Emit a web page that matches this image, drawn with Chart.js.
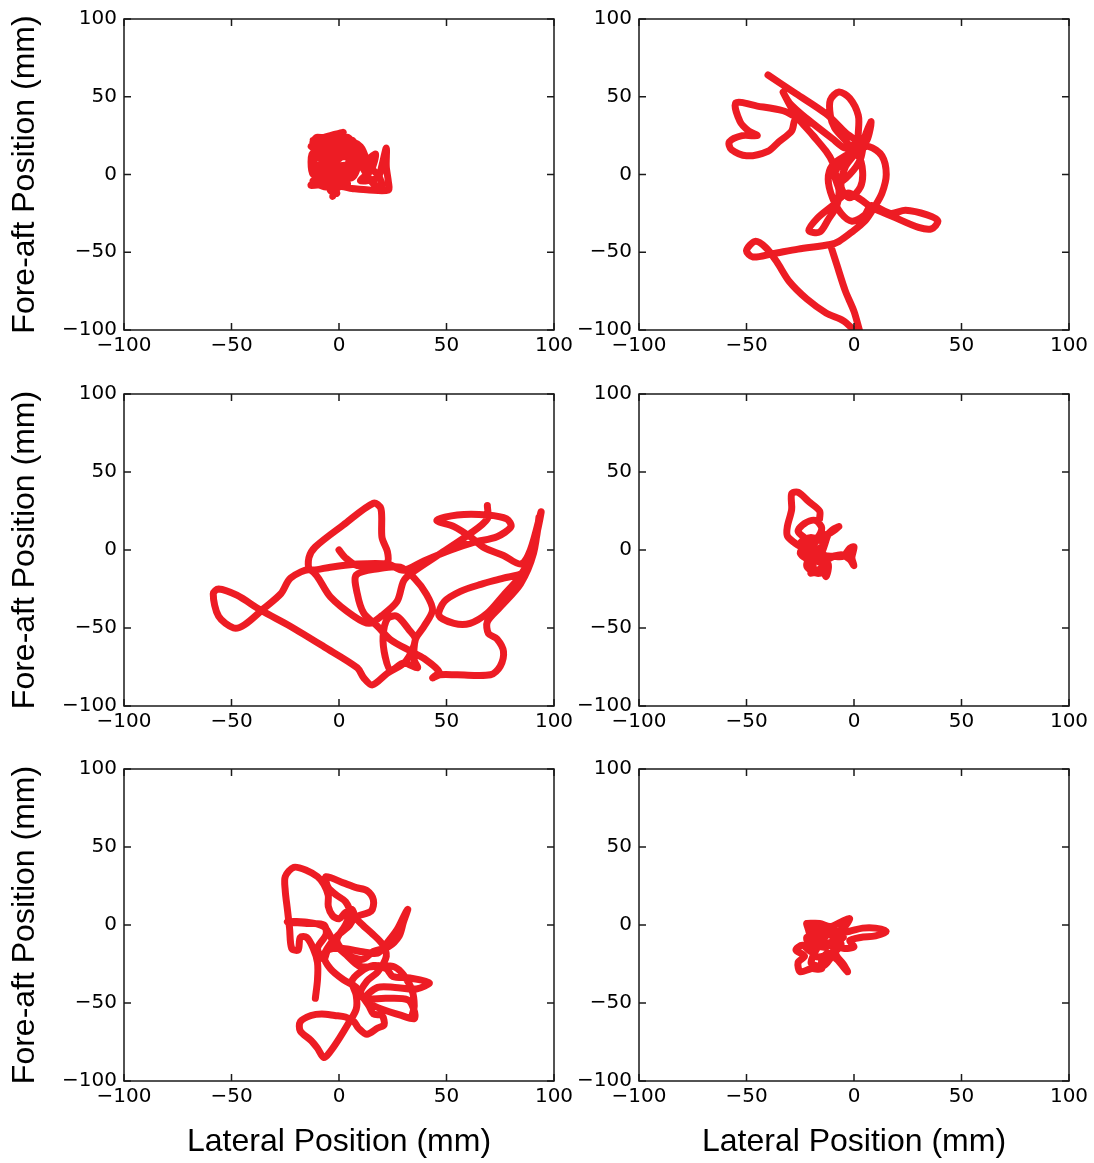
<!DOCTYPE html>
<html>
<head>
<meta charset="utf-8">
<script src="https://cdn.jsdelivr.net/npm/chart.js@4.4.1/dist/chart.umd.min.js"></script>
<style>
  html, body { margin: 0; padding: 0; background: #fff; overflow: hidden; }
  #wrap { position: relative; width: 1094px; height: 1163px; }
  canvas { position: absolute; }
</style>
</head>
<body>
<div id="wrap">
  <canvas id="c1"></canvas>
  <canvas id="c2"></canvas>
  <canvas id="c3"></canvas>
  <canvas id="c4"></canvas>
  <canvas id="c5"></canvas>
  <canvas id="c6"></canvas>
</div>
<script>
// tick labels shared by every panel (mm)
var axisTicks = [-100, -50, 0, 50, 100];

// panel 1 (top left)
var p1Lateral = [-12,-4,2,-6,-13,-2,6,8,-10,-12,0,5,3,-11,-9,4,9,12,14,17,15,10,18,20,22,22,23,23,14,6,0,-3,-1,-13,-8,2,7,-2,-8,-3,4,7,10,6,-1,-7,-12,-13,-12,-5,3,8,12,16,20,18,11,4,-10,-12,6,4,-12,-12,8,6,-12,-6,4,-4,-1,-9,2,10,14];
var p1ForeAft = [22,25,27,20,18,15,22,14,12,6,10,18,4,2,-4,0,8,5,10,13,3,-4,-2,6,17,5,-5,-10,-10,-9,-8,-14,-6,-7,-4,-3,2,6,9,18,24,19,14,6,1,-1,0,8,14,10,13,10,2,-6,-8,0,8,20,24,20,18,12,10,4,6,-2,-4,-8,-6,-10,-12,16,22,18,4];

// panel 2 (top right), null = pen lifted
var p2Lateral = [0,-5,-13,-22,-30,-36,-41,-46,-50,-47,-38,-26,-11,-7,-1,5,9,13,15,13,7,2,-4,-10,-12,-10,-6,-1,5,8,17,24,34,39,36,30,18,8,3,-3,-10,-17,-21,-16,-12,-8,-7,-9,-6,-2,2,4,3,-2,-6,-4,1,2,2,-2,-7,-11,-11,-9,-4,1,6,8,5,3,-2,-7,-10,-13,-19,-27,-33,-30,-22,-10,-4,1,-4,-13,-27,-40,
  null, 2.5,0,-4,-8,-11,
  null, -20,-27,-29,-35,-40,-50,-57,-58,-52,-45,-49,-53,-55,-45,-33,-27];
var p2ForeAft = [-100,-94,-89,-80,-69,-56,-47,-43,-49,-53,-51,-48,-45,-43,-37,-30,-22,-12,0,12,18,16,12,6,-3,-15,-25,-30,-26,-20,-25,-23,-26,-30,-35,-34,-27,-21,-16,-12,-20,-28,-36,-37,-29,-20,-10,0,8,14,12,2,-8,-15,-8,5,15,27,38,49,53,48,38,30,22,14,22,34,24,10,0,-5,8,15,25,38,53,46,36,23,17,21,27,39,52,64,
  null, -100,-88,-75,-58,-45,
  null, 33,36,28,21,15,12,16,21,25,25,28,34,46,44,41,37];

// panel 3 (middle left)
var p3Lateral = [0,3,8.5,18,22.5,22.5,20,19.5,16,2,-11,-14,-13.5,-4,8.5,22.5,30,39.5,52,63,73.5,80,78,69,55,45.5,53.5,61,67.5,76.5,84.5,89,94,92,88.5,83,76.5,69,61,53.5,46.5,49,56.5,66,76.5,86,91.5,93,90.5,84.5,75,69,69.5,73.5,76.5,75,70.5,55,47,43.5,46.5,39.5,33.5,24,18,11.5,8.5,8,18,28.5,35,40.5,43.5,39.5,35.5,35,36.5,30,24,21.5,20.5,22.5,27,32.5,35.5,31,22.5,15.5,11.5,8.5,-7,-22.5,-36.5,-47.5,-56,-58.5,-56,-49,-44,-35,-27,-22.5,-13,-4,7,14,20,27,30,33.5,47.5,61,69,69];
var p3ForeAft = [0,-5,-10,-10,-8,-1,8,26.5,30,16,2,-5,-12.5,-11,-9,-9,-13,-7,0,5,8.5,15,20,22.5,22.5,19,15,8.5,1.5,-3.5,-9,0,24.5,10.5,-6.5,-19,-29,-40.5,-47,-47,-42,-33,-26.5,-22,-18,-14,6,21,-2,-21.5,-36.5,-46,-53.5,-57,-65,-74.5,-80,-80,-80,-82,-78,-69.5,-65,-57.5,-49,-40.5,-28,-16,-12,-11,-18,-28,-38.5,-49,-57.5,-70.5,-75.5,-72.5,-77,-68.5,-55.5,-44,-42.5,-51,-57.5,-71.5,-79,-86.5,-82,-75.5,-62,-49,-38.5,-29,-25,-28,-42.5,-50,-48,-37.5,-28,-18,-13,-30,-42.5,-47,-42,-33,-20,-15,-2,10.5,20,28.5];

// panel 4 (middle right)
var p4Lateral = [-16,-16,-21,-26,-29,-29,-31,-31,-28,-24,-22,-26,-23,-18,-15,-17,-22,-25,-21,-16,-14,-12,-10,-7,-11,-16,-19,-23,-19,-20,-15,-13,-12,-16,-10,-5,-2,0,-1,0,-2,-6,-12,-14,-18,-20,-24,-20,-14,-20,-25,-18,-12,-17,-22,-18,-14];
var p4ForeAft = [20,25,31,37,36,26,15,9,5,2,6,12,17,19,14,8,4,-2,-6,-4,2,10,13,15,11,8,3,-4,-10,-15,-12,-17,-9,-4,-4,-4,1,2,-5,-10,-6,-3,-6,-12,-14,-8,-3,-2,4,8,4,-6,-12,-15,-10,0,-3];

// panel 5 (bottom left)
var p5Lateral = [-11,-10,-10,-12,-15,-18,-19,-22,-23,-24,-25,-25,-21,-15,-10,-7,-5,-5,-3,0,3,6,7,5,0,-4,-7,-4,2,8,11,14,16,20,21,18,13,9,7,3,-2,-8,-13,-18,-18,-13,-10,-7,-4,0,4,8,8,6,10,16,22,25,33,42,36,26,18,12,22,32,35,35,29,20,14,10,13,18,22,20,15,11,8,15,16,13,8,2,-6,-5,-1,3,5,3,-1,4,11,16,23,28,30,32,31,27,22,18,10,2,-5,-7,-10,-6,-7,-14,-24,-16,-7,-2,4,9,14,20,26,30,34,35,34];
var p5ForeAft = [-47,-35,-24,-15,-8,-8,-16,-15,-2,10,22,31,37,35,31,26,19,12,6,4,8,10,6,0,-6,-12,-20,-28,-35,-40,-46,-52,-57,-58,-64,-66,-70,-66,-62,-59,-58,-57,-58,-62,-68,-74,-79,-85,-81,-73,-64,-54,-45,-36,-30,-26,-28,-33,-34,-37,-41,-40,-40,-47,-47,-48,-55,-60,-58,-54,-50,-44,-36,-30,-20,-12,-5,0,5,9,16,22,24,27,31,24,19,15,8,0,-10,-19,-22,-17,-14,-7,2,10,8,-3,-12,-18,-17,-15,-16,-22,-15,-6,0,1,2,2,-1,-12,-20,-26,-27,-26,-27,-32,-42,-52,-58];

// panel 6 (bottom right)
var p6Lateral = [-22,-16,-11,-6,-2,-5,-10,-2,4,10,15,10,3,-2,0,-5,-10,-8,-5,-3,-8,-12,-15,-15,-20,-25,-26,-23,-27,-24,-20,-20,-21,-22,-19,-14,-17,-13,-9,-14,-18,-20,-10,-5,-15,-22,-18,-10,-6,-12,-20,-14,-8];
var p6ForeAft = [1,1,-1,2,4,-2,-6,-4,-2,-2,-4,-7,-8,-10,-14,-15,-12,-20,-25,-30,-22,-18,-22,-28,-28,-30,-24,-20,-16,-13,-17,-10,-4,1,-6,-8,-13,-14,-9,-4,-1,-5,-3,-8,-12,-8,-20,-18,-12,-6,-24,-26,-15];

var red = '#ED1C24';
var tickFont = { family: 'DejaVu Sans', size: 20 };
var titleFont = { family: 'Liberation Sans', size: 32 };

function minusSign(v) {
  return v < 0 ? '\u2212' + Math.abs(v) : String(v);
}

// box + inward ticks on all four sides, like the old matplotlib look
var frameTicks = {
  id: 'frameTicks',
  afterDraw: function(chart) {
    var ctx = chart.ctx, a = chart.chartArea;
    var xs = chart.scales.x, ys = chart.scales.y;
    ctx.save();
    ctx.strokeStyle = '#1a1a1a';
    ctx.lineWidth = 1.5;
    ctx.strokeRect(a.left, a.top, a.right - a.left, a.bottom - a.top);
    ctx.beginPath();
    axisTicks.forEach(function(v) {
      var px = xs.getPixelForValue(v), py = ys.getPixelForValue(v);
      ctx.moveTo(px, a.top); ctx.lineTo(px, a.top + 7);
      ctx.moveTo(px, a.bottom); ctx.lineTo(px, a.bottom - 7);
      ctx.moveTo(a.left, py); ctx.lineTo(a.left + 7, py);
      ctx.moveTo(a.right, py); ctx.lineTo(a.right - 7, py);
    });
    ctx.stroke();
    ctx.restore();
  }
};

function makePanel(id, lateral, foreAft, box) {
  var cv = document.getElementById(id);
  cv.width = box.w;
  cv.height = box.h;
  cv.style.left = box.left + 'px';
  cv.style.top = box.top + 'px';

  var pts = lateral.map(function(x, i) {
    return x === null ? { x: null, y: null } : { x: x, y: foreAft[i] };
  });

  return new Chart(cv, {
    type: 'scatter',
    data: {
      datasets: [{
        data: pts,
        showLine: true,
        borderColor: red,
        backgroundColor: red,
        borderWidth: 7,
        borderCapStyle: 'round',
        borderJoinStyle: 'round',
        tension: 0.3,
        pointRadius: 0,
        clip: 0
      }]
    },
    options: {
      responsive: false,
      animation: false,
      devicePixelRatio: 1,
      layout: { padding: { top: 18, right: box.padRight, bottom: 0, left: 0 } },
      plugins: { legend: { display: false }, tooltip: { enabled: false } },
      scales: {
        x: {
          type: 'linear', min: -100, max: 100,
          afterBuildTicks: function(s) { s.ticks = axisTicks.map(function(v) { return { value: v }; }); },
          afterFit: function(s) { s.height = box.xh; },
          grid: { display: false, drawTicks: false },
          border: { display: false },
          ticks: { font: tickFont, color: '#000', padding: 4, maxRotation: 0, autoSkip: false, callback: minusSign },
          title: { display: box.xTitle, text: 'Lateral Position (mm)', font: titleFont, color: '#000', padding: { top: 0, bottom: 2 } }
        },
        y: {
          type: 'linear', min: -100, max: 100,
          afterBuildTicks: function(s) { s.ticks = axisTicks.map(function(v) { return { value: v }; }); },
          afterFit: function(s) { s.width = box.yw; },
          grid: { display: false, drawTicks: false },
          border: { display: false },
          ticks: { font: tickFont, color: '#000', padding: 7, autoSkip: false, callback: minusSign },
          title: { display: box.yTitle, text: 'Fore-aft Position (mm)', font: titleFont, color: '#000', padding: { top: 6, bottom: 0 } }
        }
      }
    },
    plugins: [frameTicks]
  });
}

var leftCol = { left: 0, w: 584, yw: 124, padRight: 30, yTitle: true };
var rightCol = { left: 560, w: 534, yw: 79, padRight: 25, yTitle: false };
var rows = [
  { top: 0, h: 360, xh: 30, xTitle: false },
  { top: 375, h: 361, xh: 30, xTitle: false },
  { top: 750, h: 413, xh: 82, xTitle: true }
];

function box(col, row) {
  return Object.assign({}, col, row);
}

makePanel('c1', p1Lateral, p1ForeAft, box(leftCol, rows[0]));
makePanel('c2', p2Lateral, p2ForeAft, box(rightCol, rows[0]));
makePanel('c3', p3Lateral, p3ForeAft, box(leftCol, rows[1]));
makePanel('c4', p4Lateral, p4ForeAft, box(rightCol, rows[1]));
makePanel('c5', p5Lateral, p5ForeAft, box(leftCol, rows[2]));
makePanel('c6', p6Lateral, p6ForeAft, box(rightCol, rows[2]));
</script>
</body>
</html>
